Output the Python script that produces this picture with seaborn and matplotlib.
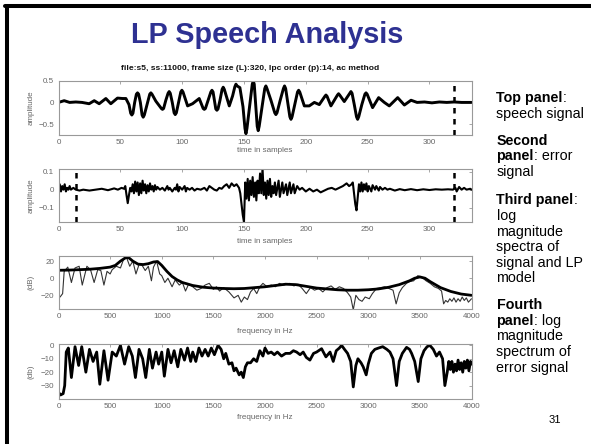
import matplotlib
matplotlib.use("Agg")
import matplotlib.pyplot as plt
import seaborn as sns
import numpy as np
import pandas as pd
from matplotlib.lines import Line2D

# ---------------- data ----------------
# Panel 1: speech signal (sample, amplitude)
sig_s = [0, 4.6, 9, 14, 19, 24.8, 28.9, 32.9, 38.3, 42.3,
         47.7, 51.8, 54.5, 57, 58.4, 59.3, 60.2, 61.6, 63.0, 63.9,
         64.8, 66.2, 67.6, 68.5, 69.4, 71.6, 73.8, 74.7, 75.6, 78.7,
         83.2, 84.1, 85.0, 86.8, 88.6, 89.5, 90.4, 92, 93.5, 94.4,
         95.3, 97.1, 98.9, 99.8, 100.7, 104.4, 108.4, 113.8, 117.0, 117.9,
         118.8, 121, 123.2, 124.1, 125.0, 127.2, 128.1, 129.0, 130.6, 132.3,
         133.2, 134.1, 138.1, 140.8, 142.6, 143.5, 144.4, 146.7, 149.2, 150.8,
         151.6, 152.4, 154.5, 156.7, 157.5, 158.3, 159.5, 160.7, 161.5, 162.3,
         164.6, 166.8, 167.7, 168.6, 171.8, 174.9, 175.8, 176.7, 179.3, 181.9,
         182.8, 183.7, 185.4, 187.1, 188, 188.9, 191.1, 193.3, 194.2, 195.1,
         198.8, 202.8, 206.9, 210.9, 215.4, 216.3, 217.2, 220.3, 225.6, 226.5,
         227.4, 231.1, 235.6, 236.5, 237.4, 239.2, 241.0, 241.9, 242.8, 245.3,
         247.8, 248.7, 249.6, 254, 258.9, 263.5, 267.5, 274.3, 279.7, 285.1,
         290, 296, 302, 308, 314, 320, 326, 334]
sig_v = [0.0, 0.04, 0.0, 0.01, 0.0, -0.03, 0.04, -0.03, 0.09, -0.03,
         0.1, 0.09, 0.09, -0.05, -0.25, -0.29, -0.25, 0.0, 0.19, 0.22,
         0.19, 0.0, -0.29, -0.34, -0.29, -0.05, 0.19, 0.22, 0.19, 0.03,
         -0.14, -0.16, -0.14, 0.05, 0.21, 0.25, 0.21, 0.0, -0.24, -0.28,
         -0.24, 0.0, 0.24, 0.28, 0.24, -0.08, -0.03, 0.09, -0.14, -0.16,
         -0.14, 0.05, 0.24, 0.28, 0.24, -0.15, -0.18, -0.15, 0.05, 0.3,
         0.35, 0.3, -0.08, 0.15, 0.36, 0.42, 0.38, 0.34, -0.1, -0.6,
         -0.72, -0.6, -0.1, 0.42, 0.49, 0.42, -0.05, -0.55, -0.65, -0.55,
         -0.1, 0.32, 0.38, 0.32, 0.05, -0.24, -0.28, -0.24, 0.05, 0.32,
         0.38, 0.32, 0.0, -0.33, -0.39, -0.33, -0.05, 0.24, 0.28, 0.24,
         -0.08, -0.08, 0.0, -0.05, 0.14, 0.17, 0.14, -0.08, 0.17, 0.2,
         0.17, 0.02, 0.21, 0.25, 0.21, -0.05, -0.33, -0.39, -0.33, -0.05,
         0.19, 0.22, 0.19, -0.12, 0.11, 0.0, -0.08, 0.11, -0.06, 0.05,
         0.0, 0.01, -0.01, 0.01, 0.0, 0.01, 0.0, 0.0]

# Panel 2: LPC error signal (sample, amplitude)
err_s = [0, 1, 2, 3, 4, 5, 6, 7, 8, 9, 10, 12, 14, 17, 20, 25, 30, 35, 40, 45, 48, 51, 53, 54, 55, 56,
         57, 58, 59, 60, 61, 62, 63, 64, 65, 66, 67, 68, 69, 70, 71, 72, 73, 74, 75, 76, 77, 78, 79,
         80, 82, 84, 86, 88, 89, 90, 92, 94, 95, 96, 97, 98, 100, 102, 103, 104, 106, 108, 110, 112,
         115, 118, 120, 122, 124, 126, 128, 130, 132, 134, 136, 138, 140, 142, 144, 146, 147, 148, 149,
         150, 151, 152, 153, 154, 155, 156, 157, 158, 159, 160, 161, 162, 163, 164, 165, 166, 167, 168,
         169, 170, 171, 172, 173, 174, 175, 176, 178, 179, 181, 182, 184, 185, 187, 188, 190, 191, 193,
         195, 197, 200, 203, 206, 209, 212, 215, 218, 221, 224, 227, 230, 233, 235, 237, 238, 239, 240,
         241, 242, 243, 244, 245, 246, 247, 248, 249, 250, 251, 253, 254, 256, 257, 259, 260, 262, 264,
         266, 268, 272, 276, 280, 285, 290, 295, 300, 305, 310, 315, 319, 321, 322, 324, 326, 328, 330,
         333, 334]
err_v = [0.0, 0.03, -0.01, 0.02, 0.0, 0.03, -0.01, 0.01, 0.0, 0.02, 0.0, 0.01, 0.0, -0.005, 0.0, -0.005,
         0.0, 0.005, -0.003, 0.007, 0.0, 0.01, 0.005, 0.02, -0.03, -0.075, -0.03, 0.01, -0.01, 0.03,
         -0.02, 0.045, -0.01, 0.04, -0.03, 0.035, -0.02, 0.05, -0.005, 0.03, -0.02, 0.025, -0.01, 0.035,
         0.0, 0.02, -0.01, 0.025, 0.0, 0.015, 0.0, 0.01, -0.005, 0.02, 0.0, 0.01, -0.01, 0.01, 0.0, 0.03,
         -0.01, 0.015, 0.0, 0.02, -0.01, 0.01, 0.0, 0.01, -0.005, 0.005, 0.0, 0.01, -0.005, 0.02, 0.01,
         0.0, -0.005, 0.01, 0.005, 0.02, 0.03, 0.01, 0.035, 0.02, 0.03, 0.01, -0.02, -0.08, -0.14, -0.18,
         0.04, -0.05, 0.06, -0.06, 0.05, -0.03, 0.07, -0.04, 0.04, -0.06, 0.05, -0.02, 0.09, -0.02, 0.12,
         -0.03, 0.04, -0.05, 0.05, -0.03, 0.06, -0.04, 0.02, -0.02, 0.04, -0.03, 0.05, -0.04, 0.04, -0.02,
         0.03, -0.03, 0.04, -0.02, 0.03, -0.02, 0.02, 0.0, 0.01, -0.01, 0.005, -0.01, 0.0, -0.015, -0.005,
         0.005, 0.01, 0.0, 0.01, 0.02, 0.035, 0.02, 0.03, 0.04, -0.02, -0.08, -0.115, -0.04, 0.03, -0.01,
         0.04, -0.01, 0.03, 0.0, 0.035, -0.01, 0.02, -0.01, 0.025, 0.0, 0.02, -0.005, 0.015, 0.0, 0.01,
         0.0, 0.005, -0.005, 0.003, -0.003, 0.003, -0.003, 0.002, -0.002, 0.002, 0.0, 0.002, 0.0, 0.01,
         -0.01, 0.015, 0.0, 0.01, 0.0, 0.005, 0.0]

# Panel 3: log magnitude spectrum of signal (thin) and LP model (thick)
spec_f = [0, 15, 40, 55, 90, 125, 160, 200, 230, 275, 310, 345, 380, 410, 440, 470, 500, 520, 560, 600,
          630, 660, 690, 720, 750, 780, 810, 840, 870, 900, 920, 950, 980, 1000, 1030, 1060, 1100, 1130,
          1170, 1200, 1230, 1260, 1300, 1340, 1380, 1420, 1460, 1500, 1530, 1560, 1600, 1650, 1700,
          1740, 1770, 1800, 1830, 1860, 1890, 1920, 1950, 1980, 2020, 2060, 2100, 2140, 2180, 2220,
          2240, 2280, 2320, 2360, 2400, 2440, 2480, 2520, 2560, 2600, 2640, 2680, 2720, 2760, 2800,
          2830, 2855, 2880, 2910, 2940, 2970, 3010, 3040, 3080, 3120, 3160, 3200, 3240, 3270, 3300,
          3330, 3370, 3400, 3440, 3480, 3520, 3560, 3600, 3640, 3680, 3710, 3730, 3750, 3770, 3790,
          3810, 3830, 3850, 3870, 3890, 3910, 3930, 3950, 3970, 4000]
spec_db = [-20, -22, -18, 8, 13, -5, 12, 14, -8, 14, 10, -5, 10, 9, -8, 8, 5, 10, 14, 12, 22, 24, 14,
           20, 5, 16, 15, 9, 14, -3, 13, 20, 5, 3, -5, 0, -10, -2, -8, -5, -15, -7, -10, -14, -12, -8,
           -6, -13, -10, -15, -11, -16, -23, -20, -28, -22, -25, -16, -12, -18, -10, -6, -10, -8, -10,
           -6, -8, -7, -6, -9, -7, -12, -18, -11, -14, -12, -16, -11, -9, -13, -10, -12, -17, -22, -37,
           -20, -25, -27, -22, -24, -18, -12, -11, -10, -12, -14, -30, -17, -11, -6, -4, -3, 3, 1, -3,
           -6, -10, -12, -15, -30, -26, -28, -24, -27, -23, -28, -24, -27, -22, -26, -23, -28, -24]

lp_f = [0, 100, 200, 300, 400, 500, 550, 600, 650, 680, 720, 770, 820, 870, 920, 960, 1000, 1050, 1100,
        1150, 1200, 1300, 1400, 1500, 1600, 1700, 1800, 1900, 2000, 2100, 2200, 2300, 2400, 2500, 2600,
        2700, 2800, 2900, 3000, 3100, 3200, 3300, 3400, 3450, 3500, 3550, 3600, 3700, 3800, 3900, 4000]
lp_db = [9.3, 9.5, 10, 10.5, 11.5, 13, 15, 20, 24, 24, 20, 16.5, 16, 17, 19, 19.5, 15, 8, 2, -2, -5, -8.5,
         -10.5, -11.5, -12, -12.3, -12, -11, -10, -8.5, -7, -7.5, -9.5, -11.5, -12.5, -13.5, -14, -14,
         -13.5, -12.5, -10.5, -7.5, -3, 0, 1.5, 0, -4, -11, -15.5, -18.5, -20]

# Panel 4: log magnitude spectrum of error signal
espec_f = [0, 20, 45, 60, 75, 95, 125, 160, 195, 225, 265, 300, 335, 370, 400, 440, 480, 520, 560, 600,
           640, 680, 715, 745, 780, 815, 845, 880, 910, 945, 970, 1000, 1025, 1060, 1090, 1120, 1155,
           1185, 1220, 1250, 1280, 1300, 1330, 1360, 1390, 1420, 1450, 1480, 1510, 1545, 1575, 1600,
           1620, 1650, 1680, 1700, 1720, 1750, 1770, 1790, 1810, 1830, 1860, 1890, 1920, 1950, 1980,
           2000, 2030, 2060, 2090, 2120, 2160, 2200, 2242, 2275, 2306, 2340, 2370, 2400, 2435, 2470,
           2500, 2548, 2590, 2630, 2661, 2690, 2720, 2742, 2770, 2800, 2830, 2855, 2880, 2900, 2930,
           2951, 2980, 3000, 3030, 3064, 3100, 3140, 3180, 3210, 3240, 3274, 3300, 3330, 3371, 3400,
           3420, 3450, 3484, 3510, 3540, 3570, 3597, 3630, 3661, 3690, 3720, 3742, 3765, 3780, 3795,
           3810, 3825, 3840, 3855, 3870, 3885, 3900, 3915, 3930, 3945, 3960, 3975, 3990, 4000]
espec_db = [-35, -37, -36, -30, -5, -2, -24, -1, -15, -1, -20, -3, -12, -5, -29, -4, -26, -5, -8, 0,
            -14, -1, -8, -24, -3, -10, -24, -3, -17, -5, -14, -5, -23, -3, -13, -4, -16, -3, -11, -2,
            -12, -5, -12, -2, -8, -3, -8, -2, -7, 0, -3, -10, -6, -14, -13, -19, -17, -22, -20, -24,
            -16, -13, -13, -10, -12, -4, -8, -2, -6, -5, -7, -5, -8, -6, -6, -4, -5, -7, -5, -9, -11,
            -6, -5, -2.5, -8.6, -5, -12, -4, -2, 0, -3, -6, -12, -31, -15, -10, -13, -16, -22, -14, -6,
            -3, -2, -1, -3, -5, -10, -30, -12, -6, -1.5, -3, -6, -12, -27, -10, -4, -1, 0, -3, -8, -5,
            -10, -30, -20, -12, -18, -12, -20, -14, -19, -11, -18, -13, -20, -12, -17, -11, -19, -12,
            -14]

frame_end = 320
lpc_order = 14

time_ticks = [0, 50, 100, 150, 200, 250, 300]
freq_ticks = [0, 500, 1000, 1500, 2000, 2500, 3000, 3500, 4000]

# ---------------- figure ----------------
sns.set_style("white")
plt.rcParams["font.family"] = ["Liberation Sans", "DejaVu Sans"]

W, H = 591, 444
fig = plt.figure(figsize=(W / 100, H / 100), dpi=100)


def fx(px):
    return px / W


def fy(py):
    return 1 - py / H


# slide border (left and top)
fig.add_artist(Line2D([fx(6.5), fx(6.5)], [0, fy(6)], color="black", lw=2.9, transform=fig.transFigure))
fig.add_artist(Line2D([fx(5), 1], [fy(6), fy(6)], color="black", lw=2.9, transform=fig.transFigure))

fig.text(fx(267), fy(35), "LP Speech Analysis", ha="center", va="center", fontsize=20.8,
         fontweight="bold", color="#2E3192")
fig.text(fx(250), fy(69), "file:s5, ss:11000, frame size (L):320, lpc order (p):14, ac method",
         ha="center", va="center", fontsize=6.1, fontweight="bold", color="#111111")

L, R = 58.5, 471.5
panels = [(80.7, 135.0), (169.0, 222.0), (256.0, 309.0), (344.0, 399.0)]
axes = []
for top, bot in panels:
    ax = fig.add_axes([fx(L), fy(bot), (R - L) / W, (bot - top) / H])
    axes.append(ax)

gray = "#666666"
for ax in axes:
    for sp in ax.spines.values():
        sp.set_color("#999999")
        sp.set_linewidth(0.8)
    ax.tick_params(direction="in", length=2.5, width=0.6, colors="#999999", labelcolor=gray,
                   labelsize=5.8, top=True, right=True, pad=3)

dash = (0, (2.2, 2.2))

# Panel 1
ax = axes[0]
sns.lineplot(x=sig_s, y=sig_v, ax=ax, color="black", linewidth=2.1)
ax.axvline(frame_end, color="black", lw=1.8, ls=dash)
ax.set_xlim(0, 334)
ax.set_ylim(-0.75, 0.5)
ax.set_xticks(time_ticks)
ax.set_yticks([-0.5, 0, 0.5])
ax.set_yticklabels(["\u22120.5", "0", "0.5"])

# Panel 2
ax = axes[1]
sns.lineplot(x=err_s, y=err_v, ax=ax, color="black", linewidth=1.5)
ax.axvline(lpc_order, color="black", lw=1.8, ls=dash)
ax.axvline(frame_end, color="black", lw=1.8, ls=dash)
ax.set_xlim(0, 334)
ax.set_ylim(-0.18, 0.115)
ax.set_xticks(time_ticks)
ax.set_yticks([-0.1, 0, 0.1])
ax.set_yticklabels(["\u22120.1", "0", "0.1"])

# Panel 3
ax = axes[2]
sns.lineplot(x=spec_f, y=spec_db, ax=ax, color="#333333", linewidth=0.8)
sns.lineplot(x=lp_f, y=lp_db, ax=ax, color="black", linewidth=2.0)
ax.set_xlim(0, 4000)
ax.set_ylim(-36, 26)
ax.set_xticks(freq_ticks)
ax.set_yticks([-20, 0, 20])
ax.set_yticklabels(["\u221220", "0", "20"])

# Panel 4
ax = axes[3]
sns.lineplot(x=espec_f, y=espec_db, ax=ax, color="black", linewidth=2.0)
ax.set_xlim(0, 4000)
ax.set_ylim(-40, 1)
ax.set_xticks(freq_ticks)
ax.set_yticks([-30, -20, -10, 0])
ax.set_yticklabels(["\u221230", "\u221220", "\u221210", "0"])

xlabels = ["time in samples", "time in samples", "frequency in Hz", "frequency in Hz"]
xlab_y = [150, 241, 331, 417]
ylabels = ["amplitude", "amplitude", "(dB)", "(db)"]
for ax, (top, bot), xl, xy, yl in zip(axes, panels, xlabels, xlab_y, ylabels):
    ax.set_xlabel("")
    ax.set_ylabel("")
    fig.text(fx((L + R) / 2), fy(xy), xl, ha="center", va="center", fontsize=5.8, color=gray)
    fig.text(fx(31), fy((top + bot) / 2), yl, ha="center", va="center", rotation=90,
             fontsize=5.8, color=gray)

# Right-hand notes
fig.canvas.draw()
renderer = fig.canvas.get_renderer()
notes = [
    (98, [("Top panel", "bold"), (":", "normal")]),
    (114, [("speech signal", "normal")]),
    (141, [("Second", "bold")]),
    (156, [("panel", "bold"), (": error", "normal")]),
    (172, [("signal", "normal")]),
    (200, [("Third panel", "bold"), (":", "normal")]),
    (216, [("log", "normal")]),
    (232, [("magnitude", "normal")]),
    (247, [("spectra of", "normal")]),
    (263, [("signal and LP", "normal")]),
    (278, [("model", "normal")]),
    (305, [("Fourth", "bold")]),
    (321, [("panel", "bold"), (": log", "normal")]),
    (336, [("magnitude", "normal")]),
    (352, [("spectrum of", "normal")]),
    (368, [("error signal", "normal")]),
]
for y, parts in notes:
    x = 496.5
    for txt, wt in parts:
        t = fig.text(fx(x), fy(y + 4), txt, ha="left", va="baseline", fontsize=10.3,
                     fontweight=wt, color="black")
        bb = t.get_window_extent(renderer=renderer)
        x += bb.width
fig.text(fx(555), fy(420), "31", ha="center", va="center", fontsize=8, color="black")

fig.savefig("out.png", dpi=100)
